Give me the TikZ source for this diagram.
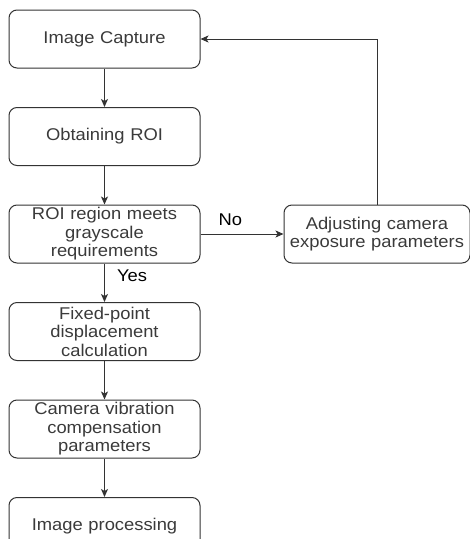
\documentclass[tikz,border=0pt]{standalone}
\usepackage{fontspec}
\setmainfont{Liberation Sans}[FakeStretch=1.08]
\usetikzlibrary{arrows.meta}
\usetikzlibrary{positioning}
\usepackage{xcolor}
\definecolor{linegray}{HTML}{333333}
\definecolor{textgray}{HTML}{3A3A3A}

\tikzset{
    stepbox/.style={draw=linegray, line width=1pt, rounded corners=8pt,
        minimum width=191pt, minimum height=58pt, text width=185pt,
        align=center, inner sep=0pt, text=textgray,
        font=\fontsize{17}{18.5}\selectfont},
    flow/.style={draw=linegray, line width=1pt,
        -{Stealth[length=8pt,width=7pt,inset=2pt]}},
    lbl/.style={text=black, font=\fontsize{17}{18}\selectfont, inner sep=0pt}
}

\begin{document}
\begin{tikzpicture}[x=1pt,y=1pt, node distance=38.5pt]
                \useasboundingbox (0,0) rectangle (470,-539);
                \node[stepbox] (capture) at (104.5,-39) {Image Capture};
                \node[stepbox, below=of capture] (roi) {Obtaining ROI};
                \node[stepbox, below=of roi] (check) {ROI region meets\\grayscale\\requirements};
                \node[stepbox, below=of check] (fixed) {Fixed-point\\displacement\\calculation};
                \node[stepbox, below=of fixed] (comp) {Camera vibration\\compensation\\parameters};
                \node[stepbox, below=of comp] (proc) {Image processing};
                % feedback branch
                \node[stepbox, minimum width=186pt, text width=186pt, right=83pt of check] (adjust) {Adjusting camera\\exposure parameters};
                \draw[flow] (capture) -- (roi);
                \draw[flow] (roi) -- (check);
                \draw[flow] (check) -- node[lbl, right=12pt, pos=0.32] {Yes} (fixed);
                \draw[flow] (fixed) -- (comp);
                \draw[flow] (comp) -- (proc);
                \draw[flow] (check) -- node[lbl, above=8pt, pos=0.36] {No} (adjust);
                \draw[flow] (adjust.north) |- (capture.east);
\end{tikzpicture}
\end{document}
